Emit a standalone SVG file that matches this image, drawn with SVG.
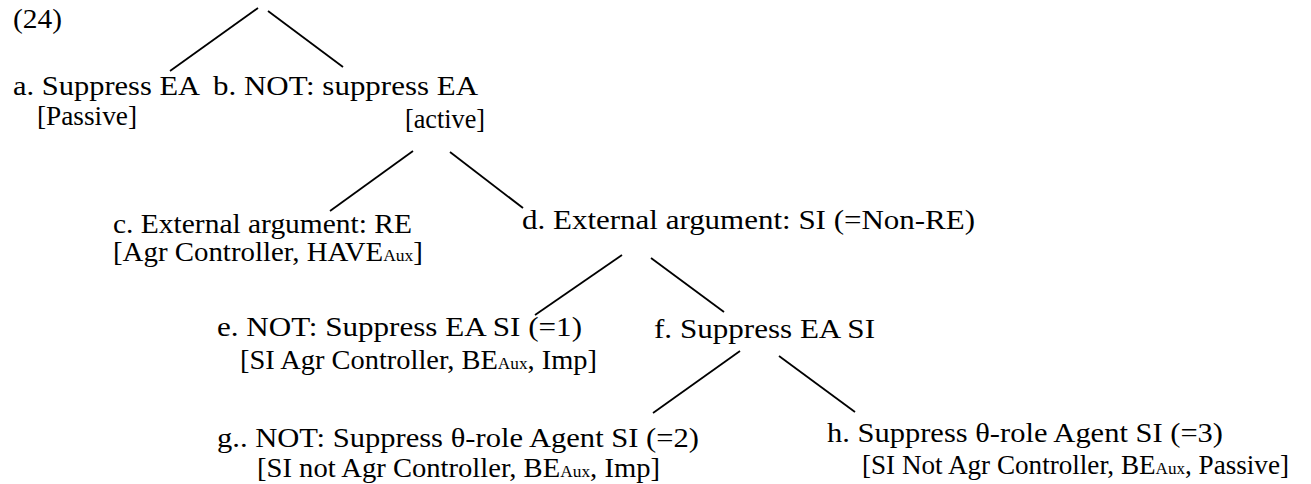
<svg xmlns="http://www.w3.org/2000/svg" width="1311" height="484" viewBox="0 0 1311 484">
<style>
text{font-family:"Liberation Serif","Times New Roman",serif;font-size:28px;fill:#000}
.sub{font-size:17px}
.sm{font-size:27px}
.edge{stroke:#000;stroke-width:1.8;fill:none}
</style>
<rect width="1311" height="484" fill="#fff"/>
<g id="connectors">
<line class="edge" x1="258" y1="8" x2="170" y2="71"/>
<line class="edge" x1="268" y1="11" x2="343" y2="67"/>
<line class="edge" x1="413" y1="151" x2="330" y2="211"/>
<line class="edge" x1="450" y1="152" x2="523" y2="208"/>
<line class="edge" x1="622" y1="255" x2="535" y2="315"/>
<line class="edge" x1="651" y1="258" x2="724" y2="312"/>
<line class="edge" x1="740" y1="351" x2="653" y2="413"/>
<line class="edge" x1="779" y1="356" x2="855" y2="412"/>
</g>
<g id="label"><text x="13" y="28" textLength="49" lengthAdjust="spacingAndGlyphs">(24)</text></g>
<g id="node-a">
<text x="13" y="95" textLength="187" lengthAdjust="spacingAndGlyphs">a. Suppress EA</text>
<text x="37" y="125" textLength="100" lengthAdjust="spacingAndGlyphs">[Passive]</text>
</g>
<g id="node-b">
<text x="213" y="95" textLength="265" lengthAdjust="spacingAndGlyphs">b. NOT: suppress EA</text>
<text x="405" y="128" textLength="80" lengthAdjust="spacingAndGlyphs">[active]</text>
</g>
<g id="node-c">
<text x="113" y="233" textLength="299" lengthAdjust="spacingAndGlyphs">c. External argument: RE</text>
<text x="113" y="261" textLength="310" lengthAdjust="spacingAndGlyphs">[Agr Controller, HAVE<tspan class="sub">Aux</tspan>]</text>
</g>
<g id="node-d">
<text x="522" y="229" textLength="453" lengthAdjust="spacingAndGlyphs">d. External argument: SI (=Non-RE)</text>
</g>
<g id="node-e">
<text x="217" y="336" textLength="365" lengthAdjust="spacingAndGlyphs">e. NOT: Suppress EA SI (=1)</text>
<text x="240" y="369" textLength="357" lengthAdjust="spacingAndGlyphs">[SI Agr Controller, BE<tspan class="sub">Aux</tspan>, Imp]</text>
</g>
<g id="node-f">
<text x="654" y="338" textLength="221" lengthAdjust="spacingAndGlyphs">f. Suppress EA SI</text>
</g>
<g id="node-g">
<text x="217" y="447" textLength="482" lengthAdjust="spacingAndGlyphs">g.. NOT: Suppress θ-role Agent SI (=2)</text>
<text x="257" y="477" textLength="403" lengthAdjust="spacingAndGlyphs">[SI not Agr Controller, BE<tspan class="sub">Aux</tspan>, Imp]</text>
</g>
<g id="node-h">
<text x="827" y="442" textLength="396" lengthAdjust="spacingAndGlyphs">h. Suppress θ-role Agent SI (=3)</text>
<text class="sm" x="862" y="474" textLength="427" lengthAdjust="spacingAndGlyphs">[SI Not Agr Controller, BE<tspan class="sub">Aux</tspan>, Passive]</text>
</g>
</svg>
